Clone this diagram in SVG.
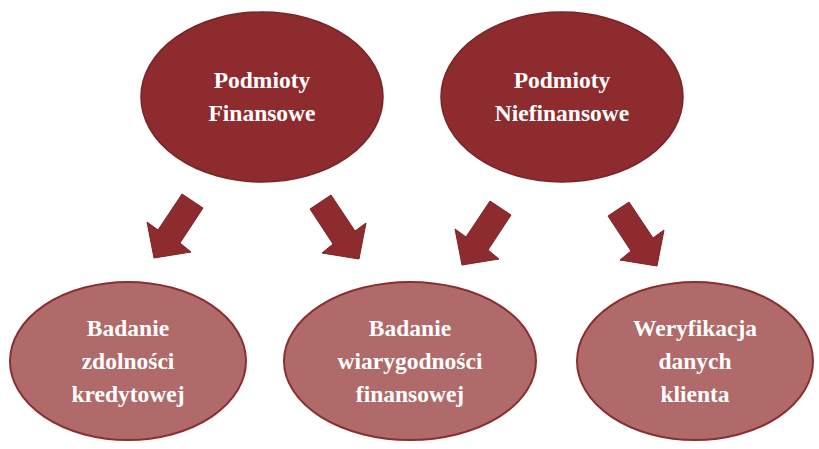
<svg xmlns="http://www.w3.org/2000/svg" width="819" height="449" viewBox="0 0 819 449">
<defs>
<style>
.top{fill:#8e2b2e;stroke:#7a2326;stroke-width:1.5}
.bot{fill:#b06a69;stroke:#8a2e30;stroke-width:2}
.t{font-family:"Liberation Serif",serif;font-weight:bold;font-size:23.5px;fill:#fff;text-anchor:middle}
.arr{fill:#8e2b2e;stroke:#7a2326;stroke-width:1}
</style>
<path id="a" d="M28,-64 L49,-50 L26,-15 L37,-6 L0,0 L-7,-36 L4,-28 Z"/>
</defs>
<g id="connectors">
<use href="#a" class="arr" transform="translate(154,258)"/>
<use href="#a" class="arr" transform="translate(359,259) scale(-1,1)"/>
<use href="#a" class="arr" transform="translate(462,265)"/>
<use href="#a" class="arr" transform="translate(657,266) scale(-1,1)"/>
</g>
<g id="n1"><ellipse class="top" cx="262" cy="97" rx="121" ry="85"/><text class="t" x="262" y="88">Podmioty</text><text class="t" x="262" y="121">Finansowe</text></g>
<g id="n2"><ellipse class="top" cx="562" cy="97" rx="121" ry="85"/><text class="t" x="562" y="88">Podmioty</text><text class="t" x="562" y="121">Niefinansowe</text></g>
<g id="n3"><ellipse class="bot" cx="128" cy="361" rx="118" ry="79"/><text class="t" x="128" y="336">Badanie</text><text class="t" x="128" y="369">zdolności</text><text class="t" x="128" y="402">kredytowej</text></g>
<g id="n4"><ellipse class="bot" cx="410" cy="361" rx="126" ry="79"/><text class="t" x="410" y="336">Badanie</text><text class="t" x="410" y="369">wiarygodności</text><text class="t" x="410" y="402">finansowej</text></g>
<g id="n5"><ellipse class="bot" cx="695" cy="361" rx="118" ry="79"/><text class="t" x="695" y="336">Weryfikacja</text><text class="t" x="695" y="369">danych</text><text class="t" x="695" y="402">klienta</text></g>
</svg>
